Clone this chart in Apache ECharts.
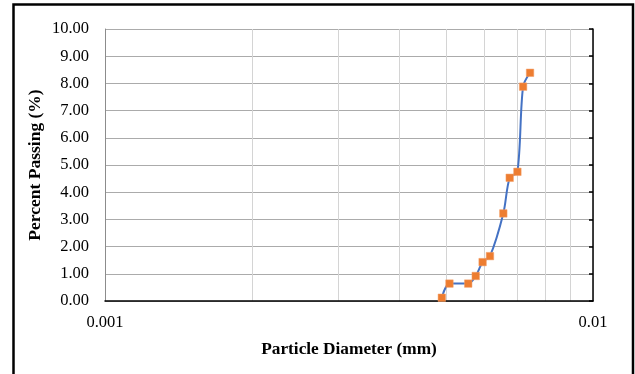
<!DOCTYPE html>
<html>
<head>
<meta charset="utf-8">
<script src="https://cdn.jsdelivr.net/npm/echarts@6/dist/echarts.min.js"></script>
<style>
html,body{margin:0;padding:0;background:#fff;}
#chart{width:635px;height:374px;}
</style>
</head>
<body>
<div id="chart"></div>
<script>
// Data
var diameters = [0.00490, 0.00508, 0.00555, 0.00575, 0.00594, 0.00615, 0.00655, 0.00675, 0.00700, 0.00719, 0.00743];
var passing   = [0.12, 0.64, 0.64, 0.92, 1.43, 1.65, 3.22, 4.53, 4.75, 7.88, 8.39];
var gridX = [0.001, 0.002, 0.003, 0.004, 0.005, 0.006, 0.007, 0.008, 0.009, 0.01];
var xLabels = [0.001, 0.01];

var seriesData = diameters.map(function (d, i) { return [d, passing[i]]; });
var font = '"Liberation Serif", "Times New Roman", serif';

var chart = echarts.init(document.getElementById('chart'), null, {renderer: 'canvas'});
chart.setOption({
  animation: false,
  backgroundColor: '#fff',
  grid: {left: 105, top: 29, right: 42, bottom: 73, containLabel: false},
  graphic: [{
    type: 'rect', silent: true, z: 100,
    shape: {x: 13.5, y: 4.5, width: 619.5, height: 380},
    style: {fill: 'none', stroke: '#000', lineWidth: 2.5}
  }],
  xAxis: {
    type: 'log', logBase: 10, min: 0.001, max: 0.01,
    name: 'Particle Diameter (mm)', nameLocation: 'middle', nameGap: 40,
    nameTextStyle: {fontFamily: font, fontSize: 17.3, fontWeight: 'bold', color: '#000'},
    axisLine: {show: true, lineStyle: {color: '#000', width: 1.5}},
    axisTick: {show: false, customValues: gridX},
    axisLabel: {
      fontFamily: font, fontSize: 16.5, color: '#000', margin: 13,
      customValues: xLabels,
      formatter: function (v) { return v <= 0.0011 ? '0.001' : '0.01'; }
    },
    splitLine: {show: true, lineStyle: {color: '#d4d4d4', width: 1}}
  },
  yAxis: [{
    type: 'value', min: 0, max: 10, interval: 1, position: 'left',
    name: 'Percent Passing (%)', nameLocation: 'middle', nameGap: 61,
    nameMoveOverlap: false,
    nameTextStyle: {fontFamily: font, fontSize: 17.5, fontWeight: 'bold', color: '#000'},
    axisLine: {show: true, lineStyle: {color: '#8c8c8c', width: 1}},
    axisTick: {show: false},
    axisLabel: {
      fontFamily: font, fontSize: 16.5, color: '#000', margin: 16,
      formatter: function (v) { return v.toFixed(2); }
    },
    splitLine: {show: true, lineStyle: {color: '#ababab', width: 1}}
  }, {
    type: 'value', min: 0, max: 10, interval: 1, position: 'right',
    axisLine: {show: true, lineStyle: {color: '#000', width: 1.5}},
    axisTick: {show: true, inside: true, length: 4, lineStyle: {color: '#000', width: 1.5}},
    axisLabel: {show: false},
    splitLine: {show: false}
  }],
  series: [{
    type: 'line',
    data: seriesData,
    smooth: 0.3,
    symbol: 'rect', symbolSize: 7.5,
    lineStyle: {color: '#4472C4', width: 2},
    itemStyle: {color: '#ED7D31', borderColor: '#F4A06A', borderWidth: 0.5},
    z: 5
  }]
});
</script>
</body>
</html>
